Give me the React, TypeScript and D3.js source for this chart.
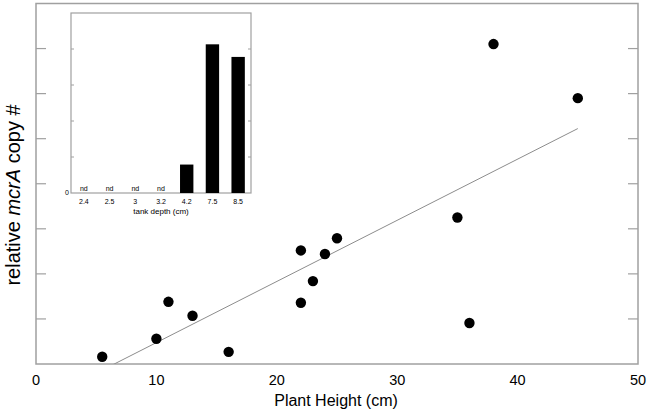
import React from "react";
import * as d3 from "d3";

const plantHeight = [5.5, 10, 11, 13, 16, 22, 22, 23, 24, 25, 35, 36, 38, 45];
const copyNumber = [0.16, 0.56, 1.38, 1.07, 0.27, 2.52, 1.36, 1.84, 2.44, 2.79, 3.25, 0.91, 7.1, 5.9];
const xTicks = [0, 10, 20, 30, 40, 50];
const yTicks = [0, 1, 2, 3, 4, 5, 6, 7, 8];
const fitSlope = 0.1357;
const fitIntercept = -0.882;

const depthCats = ["2.4", "2.5", "3", "3.2", "4.2", "7.5", "8.5"];
const depthValues = [0, 0, 0, 0, 0.79, 4.13, 3.78];
const depthDetected = [false, false, false, false, true, true, true];
const insetYTicks = [0, 1, 2, 3, 4, 5];

const W = 650;
const H = 419;
const font = "Liberation Sans, Arial, sans-serif";

export default function App() {
  const x = d3.scaleLinear().domain([0, 50]).range([36, 638]);
  const y = d3.scaleLinear().domain([0, 8]).range([364, 3.5]);
  const fitX = [d3.min(plantHeight)!, d3.max(plantHeight)!];
  const line = d3
    .line<number>()
    .x((d) => x(d))
    .y((d) => y(fitSlope * d + fitIntercept));

  const ix = d3.scaleBand().domain(depthCats).range([71, 251]).paddingInner(0.48).paddingOuter(0.24);
  const iy = d3.scaleLinear().domain([0, 5]).range([193, 13]);

  const frame = "#a0a0a0";

  return (
    <div style={{ position: "absolute", left: 0, top: 0 }}>
      <svg width={W} height={H} style={{ display: "block", background: "#fff" }}>
        <defs>
          <clipPath id="plotclip">
            <rect x={x(0)} y={y(8)} width={x(50) - x(0)} height={y(0) - y(8)} />
          </clipPath>
        </defs>
        {/* main frame */}
        <rect x={x(0)} y={y(8)} width={x(50) - x(0)} height={y(0) - y(8)} fill="none" stroke={frame} strokeWidth={1.5} />
        {yTicks.slice(1, -1).map((t) => (
          <g key={t}>
            <line x1={x(0)} x2={x(0) + 10} y1={y(t)} y2={y(t)} stroke={frame} strokeWidth={1.2} />
            <line x1={x(50) - 10} x2={x(50)} y1={y(t)} y2={y(t)} stroke={frame} strokeWidth={1.2} />
          </g>
        ))}
        {xTicks.map((t) => (
          <text key={t} x={x(t)} y={384.5} textAnchor="middle" fontFamily={font} fontSize={14.5} fill="#000">
            {t}
          </text>
        ))}
        <text x={336} y={406} textAnchor="middle" fontFamily={font} fontSize={16} fill="#000">
          Plant Height (cm)
        </text>
        <text
          transform="translate(20,195) rotate(-90)"
          textAnchor="middle"
          fontFamily={font}
          fontSize={20}
          fill="#000"
        >
          relative <tspan fontStyle="italic">mcrA</tspan> copy #
        </text>
        {/* regression line */}
        <path d={line(fitX) || ""} fill="none" stroke="#8c8c8c" strokeWidth={1} clipPath="url(#plotclip)" />
        {plantHeight.map((h, i) => (
          <circle key={i} cx={x(h)} cy={y(copyNumber[i])} r={5.2} fill="#000" />
        ))}

        {/* inset */}
        <rect x={71} y={iy(5)} width={180} height={iy(0) - iy(5)} fill="#fff" stroke={frame} strokeWidth={1.2} />
        {insetYTicks.slice(1, -1).map((t) => (
          <g key={t}>
            <line x1={71} x2={74} y1={iy(t)} y2={iy(t)} stroke={frame} strokeWidth={1} />
            <line x1={248} x2={251} y1={iy(t)} y2={iy(t)} stroke={frame} strokeWidth={1} />
          </g>
        ))}
        <text x={69} y={195} textAnchor="end" fontFamily={font} fontSize={7} fill="#000">
          0
        </text>
        {depthCats.map((c, i) =>
          depthDetected[i] ? (
            <rect
              key={c}
              x={ix(c)}
              y={iy(depthValues[i])}
              width={ix.bandwidth()}
              height={iy(0) - iy(depthValues[i])}
              fill="#000"
            />
          ) : (
            <text
              key={c}
              x={ix(c)! + ix.bandwidth() / 2}
              y={191}
              textAnchor="middle"
              fontFamily={font}
              fontSize={7}
              fill="#000"
            >
              nd
            </text>
          )
        )}
        {depthCats.map((c) => (
          <text
            key={c}
            x={ix(c)! + ix.bandwidth() / 2}
            y={203.5}
            textAnchor="middle"
            fontFamily={font}
            fontSize={7}
            fill="#000"
          >
            {c}
          </text>
        ))}
        <text x={161} y={214} textAnchor="middle" fontFamily={font} fontSize={8} fill="#000">
          tank depth (cm)
        </text>
      </svg>
    </div>
  );
}
